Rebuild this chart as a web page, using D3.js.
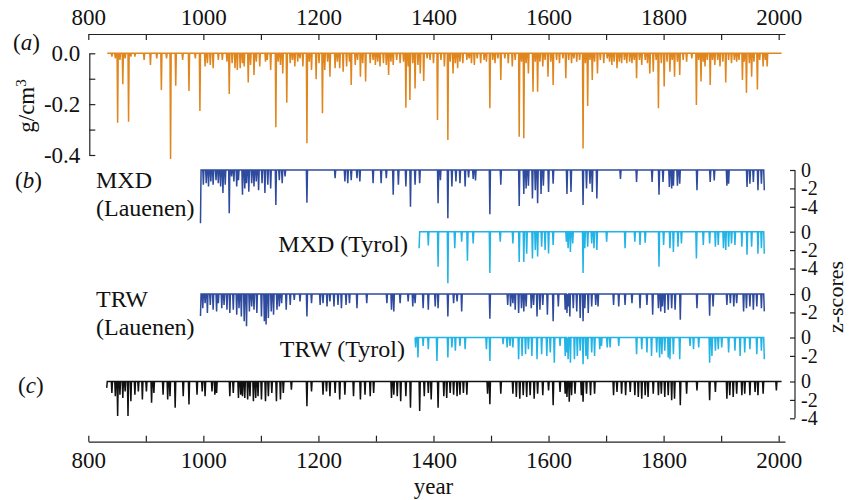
<!DOCTYPE html>
<html>
<head>
<meta charset="utf-8">
<title>Density and z-scores</title>
<script src="https://cdn.jsdelivr.net/npm/d3@7"></script>
<style>
  body { margin: 0; background: #fff; }
  svg text { font-family: "Liberation Serif", "Times New Roman", "DejaVu Serif", serif !important; fill: #111; }
  .axis path, .axis line { stroke: #222; stroke-width: 1.2; }
</style>
</head>
<body>
<svg id="chart" width="849" height="500"></svg>
<script>
// ---- data: [year, value] of each downward spike, baseline 0 elsewhere ----
var yearTicks = [800, 900, 1000, 1100, 1200, 1300, 1400, 1500, 1600, 1700, 1800, 1900, 2000];
var densityTicks = [0, -0.1, -0.2, -0.3, -0.4];

// (a) density anomaly, g/cm3
var densityRange = [833, 2005];
var densitySpikes = [[841,-0.013],[847,-0.02],[851,-0.273],[855,-0.026],[860,-0.122],[864,-0.02],[870,-0.269],[874,-0.013],[881,-0.013],[897,-0.026],[908,-0.046],[919,-0.02],[927,-0.144],[936,-0.02],[943,-0.416],[952,-0.128],[964,-0.026],[975,-0.148],[986,-0.02],[994,-0.227],
  [1003,-0.052],[1007,-0.039],[1012,-0.046],[1017,-0.059],[1026,-0.026],[1033,-0.026],[1041,-0.033],[1045,-0.16],[1050,-0.039],[1055,-0.059],[1059,-0.066],[1064,-0.059],[1068,-0.039],[1071,-0.052],[1078,-0.115],[1082,-0.046],[1088,-0.085],[1092,-0.033],[1098,-0.052],
  [1108,-0.033],[1111,-0.026],[1117,-0.066],[1126,-0.291],[1130,-0.033],[1134,-0.046],[1138,-0.079],[1145,-0.194],[1151,-0.039],[1155,-0.026],[1159,-0.052],[1164,-0.033],[1168,-0.02],[1173,-0.052],[1180,-0.354],[1184,-0.033],[1188,-0.066],[1196,-0.102],
  [1201,-0.039],[1207,-0.236],[1211,-0.066],[1216,-0.033],[1220,-0.092],[1229,-0.059],[1233,-0.033],[1237,-0.059],[1243,-0.072],[1249,-0.052],[1254,-0.033],[1257,-0.125],[1264,-0.046],[1268,-0.026],[1273,-0.092],[1277,-0.039],[1282,-0.111],[1290,-0.039],[1295,-0.026],[1299,-0.046],
  [1303,-0.033],[1307,-0.052],[1313,-0.039],[1318,-0.046],[1322,-0.085],[1326,-0.033],[1330,-0.046],[1336,-0.026],[1342,-0.039],[1348,-0.033],[1352,-0.214],[1356,-0.052],[1359,-0.184],[1364,-0.039],[1368,-0.138],[1373,-0.046],[1377,-0.079],[1383,-0.109],[1389,-0.02],[1394,-0.026],
  [1400,-0.039],[1407,-0.262],[1413,-0.026],[1419,-0.052],[1425,-0.341],[1429,-0.033],[1434,-0.079],[1438,-0.039],[1442,-0.059],[1446,-0.033],[1451,-0.039],[1458,-0.026],[1462,-0.02],[1466,-0.039],[1471,-0.046],[1476,-0.02],[1482,-0.039],[1488,-0.026],[1492,-0.033],[1498,-0.216],
  [1503,-0.026],[1507,-0.039],[1512,-0.02],[1517,-0.105],[1524,-0.02],[1530,-0.039],[1537,-0.052],[1542,-0.026],[1549,-0.328],[1553,-0.033],[1557,-0.334],[1561,-0.039],[1565,-0.079],[1573,-0.151],[1577,-0.033],[1581,-0.151],[1585,-0.033],[1590,-0.052],[1594,-0.026],[1599,-0.092],
  [1604,-0.033],[1608,-0.125],[1614,-0.026],[1619,-0.039],[1625,-0.02],[1630,-0.098],[1635,-0.026],[1640,-0.039],[1644,-0.02],[1649,-0.033],[1654,-0.026],[1660,-0.374],[1664,-0.039],[1668,-0.207],[1672,-0.026],[1676,-0.105],[1680,-0.033],[1685,-0.079],[1690,-0.026],[1696,-0.039],
  [1702,-0.02],[1706,-0.033],[1710,-0.046],[1714,-0.033],[1719,-0.059],[1723,-0.033],[1727,-0.039],[1732,-0.026],[1736,-0.039],[1741,-0.033],[1745,-0.039],[1749,-0.026],[1753,-0.098],[1758,-0.026],[1762,-0.046],[1768,-0.026],[1772,-0.039],[1776,-0.079],[1782,-0.072],[1787,-0.026],
  [1791,-0.216],[1796,-0.039],[1801,-0.131],[1806,-0.033],[1811,-0.072],[1815,-0.026],[1819,-0.092],[1824,-0.033],[1828,-0.085],[1834,-0.026],[1840,-0.033],[1849,-0.02],[1857,-0.203],[1861,-0.026],[1865,-0.111],[1869,-0.033],[1872,-0.052],[1876,-0.026],[1881,-0.125],[1885,-0.026],
  [1889,-0.046],[1894,-0.026],[1898,-0.052],[1903,-0.033],[1908,-0.115],[1913,-0.026],[1918,-0.039],[1923,-0.026],[1927,-0.033],[1931,-0.026],[1937,-0.105],[1940,-0.033],[1944,-0.155],[1949,-0.039],[1953,-0.092],[1957,-0.033],[1963,-0.142],[1967,-0.026],[1973,-0.052],[1977,-0.026],[1980,-0.052]];

// (b) MXD Lauenen, z-scores
var mxdLauRange = [995, 1975];
var mxdLauSpikes = [[995,-5.8],[1000,-1.6],[1005,-1.45],[1009,-1.8],[1013,-1.25],[1017,-1.6],[1022,-1.1],[1026,-1.45],[1030,-1.8],[1034,-2.5],[1038,-1.6],[1045,-4.7],[1049,-0.7],[1053,-1.25],[1058,-1.8],[1061,-1.1],[1068,-2.7],[1072,-2.0],[1075,-1.45],[1079,-2.35],
  [1084,-1.45],[1088,-1.8],[1092,-1.25],[1096,-2.2],[1102,-1.45],[1107,-2.5],[1112,-1.6],[1117,-2.0],[1126,-3.8],[1132,-1.1],[1137,-1.45],[1142,-0.7],[1180,-3.55],[1229,-0.9],[1246,-1.25],[1251,-1.45],[1257,-1.1],[1267,-0.9],[1272,-1.25],[1295,-1.45],
  [1309,-1.45],[1318,-0.9],[1330,-2.7],[1339,-1.6],[1352,-1.8],[1360,-4.0],[1368,-1.6],[1376,-1.45],[1408,-3.6],[1412,-1.1],[1425,-5.25],[1432,-1.8],[1439,-1.25],[1446,-1.45],[1455,-1.8],[1461,-0.8],[1469,-0.96],[1473,-1.14],[1498,-4.8],[1517,-1.6],
  [1549,-3.9],[1557,-2.6],[1561,-2.0],[1565,-1.7],[1572,-3.1],[1577,-2.2],[1581,-3.6],[1587,-2.6],[1591,-1.7],[1600,-2.4],[1608,-1.5],[1632,-2.6],[1639,-2.4],[1660,-3.8],[1666,-2.0],[1672,-1.5],[1676,-2.4],[1684,-3.1],[1725,-0.96],[1753,-1.3],
  [1780,-1.3],[1792,-2.7],[1799,-1.3],[1810,-1.85],[1814,-2.0],[1817,-1.7],[1824,-1.7],[1828,-1.5],[1858,-2.2],[1881,-1.3],[1888,-1.14],[1910,-1.7],[1913,-1.5],[1945,-1.85],[1950,-1.5],[1956,-1.3],[1964,-2.2],[1970,-1.5],[1975,-2.2]];

// (b) MXD Tyrol
var mxdTyrRange = [1375, 1975];
var mxdTyrSpikes = [[1375,-1.8],[1391,-1.5],[1408,-3.8],[1425,-5.6],[1437,-1.8],[1449,-1.1],[1459,-3.16],[1469,-1.27],[1498,-4.5],[1516,-1.1],[1538,-1.27],[1549,-3.3],[1557,-3.3],[1562,-2.4],[1572,-2.9],[1577,-2.0],[1581,-2.7],[1588,-1.64],[1594,-2.0],[1600,-2.36],
  [1608,-1.45],[1631,-1.1],[1634,-1.8],[1638,-2.2],[1642,-1.27],[1660,-4.5],[1663,-1.8],[1668,-1.64],[1675,-1.27],[1679,-1.8],[1684,-2.0],[1701,-1.1],[1733,-1.8],[1750,-1.1],[1759,-1.45],[1768,-1.2],[1792,-3.8],[1800,-1.45],[1811,-1.8],[1817,-2.2],
  [1825,-1.64],[1831,-1.27],[1857,-2.9],[1869,-1.45],[1880,-1.27],[1890,-1.64],[1895,-1.45],[1904,-1.8],[1908,-2.0],[1913,-1.64],[1918,-1.27],[1924,-1.45],[1936,-1.64],[1945,-2.5],[1953,-1.64],[1964,-2.4],[1970,-1.8],[1975,-2.4]];

// (b) TRW Lauenen
var trwLauRange = [995, 1975];
var trwLauSpikes = [[995,-2.4],[999,-1.54],[1003,-1.0],[1007,-2.07],[1012,-1.18],[1017,-1.71],[1023,-1.89],[1026,-1.0],[1032,-1.54],[1036,-1.18],[1041,-1.71],[1046,-2.07],[1052,-1.71],[1058,-2.25],[1062,-1.54],[1066,-2.43],[1071,-2.96],[1075,-3.5],[1080,-1.89],[1084,-1.36],
  [1088,-1.71],[1093,-2.07],[1101,-2.43],[1106,-2.96],[1109,-3.32],[1113,-2.6],[1118,-1.89],[1122,-2.25],[1128,-1.71],[1132,-1.36],[1136,-1.0],[1144,-1.71],[1151,-1.18],[1158,-0.64],[1168,-0.82],[1180,-2.43],[1188,-1.0],[1203,-1.18],[1208,-1.0],[1215,-1.36],
  [1220,-0.82],[1227,-1.36],[1234,-1.18],[1240,-1.54],[1248,-1.18],[1254,-1.0],[1267,-1.54],[1284,-1.0],[1319,-1.0],[1327,-1.71],[1331,-1.89],[1342,-1.0],[1356,-0.82],[1364,-1.36],[1368,-1.0],[1382,-1.54],[1391,-1.71],[1403,-1.36],[1408,-1.54],[1425,-2.43],
  [1435,-1.0],[1441,-0.82],[1449,-1.89],[1498,-2.7],[1529,-1.18],[1534,-1.36],[1538,-1.0],[1542,-1.71],[1548,-2.07],[1553,-1.54],[1557,-1.89],[1561,-1.36],[1570,-1.54],[1574,-1.18],[1580,-2.43],[1585,-1.71],[1590,-1.18],[1598,-2.25],[1608,-2.96],[1617,-1.36],
  [1629,-1.71],[1632,-2.07],[1634,-1.36],[1637,-2.43],[1643,-1.54],[1649,-1.89],[1655,-2.6],[1660,-2.96],[1663,-1.54],[1669,-2.07],[1675,-1.36],[1682,-1.18],[1686,-1.36],[1713,-1.18],[1722,-1.36],[1733,-1.18],[1745,-1.0],[1759,-1.54],[1771,-1.18],[1781,-2.25],
  [1791,-1.54],[1795,-1.89],[1798,-1.36],[1802,-2.07],[1808,-1.71],[1814,-1.54],[1820,-1.71],[1829,-2.79],[1858,-1.54],[1880,-2.36],[1886,-1.36],[1910,-1.18],[1916,-1.0],[1922,-1.36],[1927,-1.0],[1939,-1.89],[1944,-1.54],[1950,-1.36],[1956,-1.71],[1962,-1.36],[1970,-1.54],[1975,-1.89]];

// (b) TRW Tyrol
var trwTyrRange = [1368, 1975];
var trwTyrSpikes = [[1369,-1.09],[1373,-2.18],[1382,-0.91],[1391,-1.27],[1406,-2.55],[1425,-2.18],[1432,-1.09],[1438,-1.45],[1446,-0.91],[1455,-1.27],[1492,-1.27],[1498,-2.55],[1521,-0.73],[1528,-1.09],[1533,-0.91],[1538,-1.09],[1548,-2.36],[1554,-2.0],[1560,-1.82],[1565,-1.27],
  [1571,-2.0],[1580,-2.36],[1588,-1.82],[1597,-2.0],[1603,-1.64],[1610,-2.73],[1620,-0.91],[1629,-2.0],[1632,-1.64],[1634,-2.36],[1638,-2.73],[1645,-2.36],[1650,-2.0],[1655,-1.45],[1660,-2.91],[1665,-2.0],[1668,-2.36],[1675,-1.64],[1680,-2.0],[1689,-1.27],
  [1692,-0.91],[1702,-1.09],[1707,-1.09],[1722,-0.91],[1753,-1.82],[1762,-1.27],[1771,-1.64],[1779,-2.0],[1788,-1.64],[1793,-2.18],[1797,-1.82],[1802,-1.45],[1808,-2.18],[1811,-2.36],[1817,-1.82],[1828,-2.36],[1846,-0.91],[1852,-1.27],[1861,-1.09],[1880,-2.73],
  [1884,-2.0],[1890,-1.45],[1895,-1.27],[1901,-1.09],[1913,-1.64],[1924,-1.45],[1933,-2.0],[1941,-1.64],[1950,-1.27],[1962,-1.82],[1970,-1.45],[1975,-2.36]];

// (c) combined z-scores
var combRange = [832, 2005];
var combSpikes = [[832,-0.7],[841,-1.25],[847,-1.61],[851,-3.75],[855,-1.43],[860,-1.79],[864,-1.07],[869,-3.75],[874,-2.14],[881,-1.43],[887,-1.07],[894,-1.96],[901,-1.07],[910,-2.32],[914,-1.25],[930,-1.43],[938,-1.96],[942,-1.61],[951,-2.86],[965,-1.61],
  [975,-2.5],[989,-1.43],[998,-1.07],[1003,-1.61],[1015,-1.07],[1020,-1.43],[1023,-1.25],[1046,-1.61],[1052,-1.25],[1061,-1.79],[1065,-1.43],[1068,-1.61],[1072,-1.79],[1077,-1.96],[1081,-1.61],[1087,-2.14],[1091,-1.79],[1095,-1.61],[1101,-1.96],[1108,-2.14],
  [1113,-1.61],[1119,-1.25],[1127,-2.14],[1134,-1.96],[1139,-1.25],[1153,-0.89],[1180,-2.68],[1188,-1.07],[1208,-1.43],[1214,-1.07],[1220,-1.61],[1229,-1.25],[1237,-1.96],[1246,-1.43],[1261,-1.61],[1273,-1.96],[1281,-1.43],[1290,-1.61],[1296,-1.25],[1327,-1.79],
  [1331,-1.43],[1337,-1.61],[1343,-2.14],[1352,-1.61],[1360,-2.86],[1376,-3.21],[1384,-1.61],[1391,-1.25],[1396,-1.96],[1408,-2.86],[1418,-1.61],[1423,-1.79],[1429,-1.25],[1435,-1.43],[1441,-1.61],[1446,-1.43],[1452,-1.25],[1458,-1.43],[1494,-1.32],[1498,-2.46],
  [1517,-1.32],[1538,-1.32],[1544,-1.68],[1550,-1.86],[1556,-1.5],[1562,-1.68],[1568,-1.5],[1575,-1.86],[1581,-1.32],[1590,-1.5],[1600,-0.96],[1608,-2.57],[1620,-1.14],[1629,-1.32],[1632,-1.68],[1636,-2.21],[1640,-1.5],[1646,-1.32],[1657,-1.5],[1660,-2.21],
  [1666,-1.32],[1673,-1.5],[1680,-1.32],[1713,-1.5],[1719,-1.14],[1727,-1.32],[1734,-1.5],[1742,-1.14],[1750,-1.5],[1756,-1.68],[1762,-1.86],[1768,-1.5],[1773,-1.68],[1782,-1.32],[1791,-1.5],[1796,-1.32],[1802,-1.68],[1808,-1.5],[1814,-2.04],[1819,-1.86],
  [1829,-2.57],[1840,-1.32],[1858,-0.96],[1880,-2.04],[1890,-1.14],[1910,-1.86],[1915,-1.5],[1921,-1.68],[1927,-1.32],[1936,-1.5],[1941,-1.32],[1950,-1.5],[1959,-1.14],[1964,-1.5],[1973,-1.32],[1996,-0.96]];

// ---- layout ----
var serif = '"Liberation Serif", "Times New Roman", "DejaVu Serif", serif';
var svg = d3.select("#chart");
var x = d3.scaleLinear().domain([800, 2011]).range([88.3, 785]);
var yA = d3.scaleLinear().domain([0, -0.4]).range([53.3, 155]);
var zUnit = 9.2;
var rightX = 795;

function zScale(zeroY) {
  return d3.scaleLinear().domain([0, -4]).range([zeroY, zeroY + 4 * zUnit]);
}

// annual series from spike list, 0 between spikes
function annual(range, spikes) {
  var vals = new Map(spikes);
  return d3.range(range[0], range[1] + 1).map(function(yr) {
    return {year: yr, value: vals.has(yr) ? vals.get(yr) : 0};
  });
}

function drawSeries(data, yScale, color) {
  var line = d3.line()
    .x(function(d) { return x(d.year); })
    .y(function(d) { return yScale(d.value); });
  svg.append("path")
    .datum(data)
    .attr("fill", "none")
    .attr("stroke", color)
    .attr("stroke-width", 1.5)
    .attr("d", line);
}

function hyphen(v, digits) {
  var s = Math.abs(v).toFixed(digits);
  return v < 0 ? "-" + s : s;
}

function styleText(sel, size) {
  sel.style("font-family", serif).style("font-size", size + "px").attr("fill", "#111");
}

// ---- year axes ----
var yearFmt = function(d) { return d % 200 === 0 ? d : ""; };
var gTop = svg.append("g").attr("class", "axis")
  .attr("transform", "translate(0,34)")
  .call(d3.axisTop(x).tickValues(yearTicks).tickSizeInner(-6).tickSizeOuter(0).tickPadding(9).tickFormat(yearFmt));
styleText(gTop.selectAll("text"), 23);

var gBot = svg.append("g").attr("class", "axis")
  .attr("transform", "translate(0,441.7)")
  .call(d3.axisBottom(x).tickValues(yearTicks).tickSizeInner(-6).tickSizeOuter(0).tickPadding(10).tickFormat(yearFmt));
styleText(gBot.selectAll("text"), 23);

styleText(svg.append("text")
  .attr("x", x(1400)).attr("y", 494)
  .attr("text-anchor", "middle")
  .text("year"), 23);

// ---- panel (a) ----
var gA = svg.append("g").attr("class", "axis")
  .attr("transform", "translate(89.3,0)")
  .call(d3.axisLeft(yA).tickValues(densityTicks).tickSizeInner(-6).tickSizeOuter(0).tickPadding(9)
    .tickFormat(function(d) { return Math.round(d * 10) % 2 === 0 ? hyphen(d, 1) : ""; }));
styleText(gA.selectAll("text"), 23);

drawSeries(annual(densityRange, densitySpikes), yA, "#E0861E");

var gcm = svg.append("text")
  .attr("transform", "translate(34,106) rotate(-90)")
  .attr("text-anchor", "middle");
styleText(gcm, 23);
gcm.append("tspan").text("g/cm");
gcm.append("tspan").attr("dy", -8).style("font-size", "15px").text("3");

function panelLabel(letter, px, py) {
  var t = svg.append("text").attr("x", px).attr("y", py);
  styleText(t, 23);
  t.append("tspan").text("(");
  t.append("tspan").style("font-style", "italic").text(letter);
  t.append("tspan").text(")");
}
panelLabel("a", 13, 50);
panelLabel("b", 15, 188);
panelLabel("c", 18, 393);

// ---- panels (b) and (c) ----
var rows = [
  {data: annual(mxdLauRange, mxdLauSpikes), color: "#2F4B9E", zero: 170, ticks: [0, -2, -4]},
  {data: annual(mxdTyrRange, mxdTyrSpikes), color: "#22B4E6", zero: 231.7, ticks: [0, -2, -4]},
  {data: annual(trwLauRange, trwLauSpikes), color: "#2F4B9E", zero: 294, ticks: [0, -2]},
  {data: annual(trwTyrRange, trwTyrSpikes), color: "#22B4E6", zero: 337.5, ticks: [0, -2]},
  {data: annual(combRange, combSpikes), color: "#111111", zero: 381.5, ticks: [0, -2, -4]}
];

rows.forEach(function(r) {
  r.y = zScale(r.zero);
  drawSeries(r.data, r.y, r.color);
  var g = svg.append("g").attr("class", "axis")
    .attr("transform", "translate(" + rightX + ",0)")
    .call(d3.axisRight(r.y).tickValues(r.ticks).tickSizeInner(-5).tickSizeOuter(0).tickPadding(6)
      .tickFormat(function(d) { return hyphen(d, 0); }));
  g.select(".domain").remove();
  styleText(g.selectAll("text"), 20);
});

svg.append("line")
  .attr("x1", rightX).attr("x2", rightX)
  .attr("y1", rows[0].y(0)).attr("y2", rows[4].y(-4))
  .attr("stroke", "#222").attr("stroke-width", 1.2);

styleText(svg.append("text")
  .attr("transform", "translate(843,297) rotate(-90)")
  .attr("text-anchor", "middle")
  .text("z-scores"), 22);

// series names
var names = [
  {lines: ["MXD", "(Lauenen)"], x: 96, y: 188.3, anchor: "start"},
  {lines: ["MXD (Tyrol)"], x: 408, y: 251.7, anchor: "end"},
  {lines: ["TRW", "(Lauenen)"], x: 96, y: 306.7, anchor: "start"},
  {lines: ["TRW (Tyrol)"], x: 405, y: 356.7, anchor: "end"}
];
names.forEach(function(n) {
  var t = svg.append("text")
    .attr("x", n.x).attr("y", n.y)
    .attr("text-anchor", n.anchor);
  styleText(t, 24);
  n.lines.forEach(function(s, i) {
    t.append("tspan").attr("x", n.x).attr("dy", i === 0 ? 0 : 28).text(s);
  });
});
</script>
</body>
</html>
